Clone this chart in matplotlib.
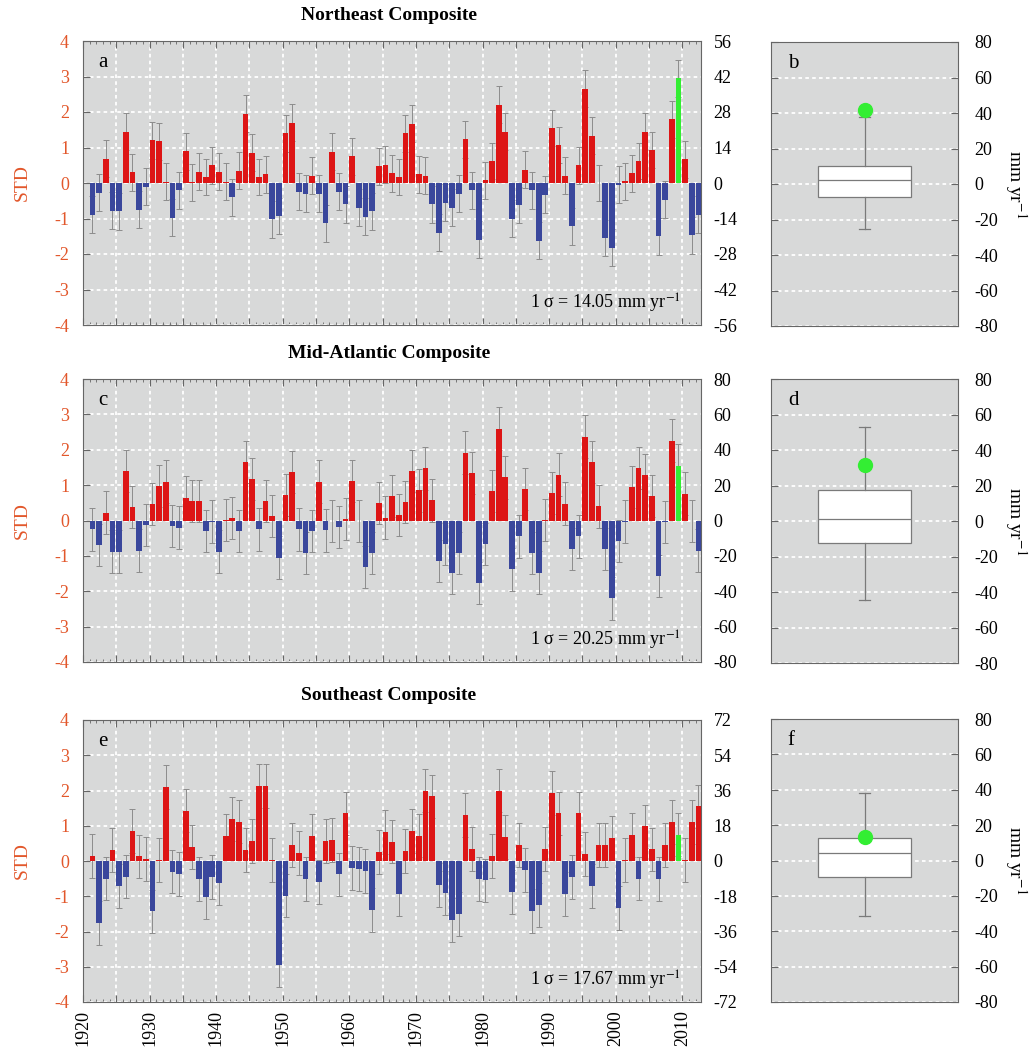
import matplotlib.pyplot as plt
import numpy as np
from matplotlib.ticker import MultipleLocator, FuncFormatter

plt.rcParams['font.family'] = ['Liberation Serif', 'DejaVu Serif']
plt.rcParams['axes.unicode_minus'] = False
plt.rcParams['mathtext.fontset'] = 'stix'

# --- dane ---
years = np.arange(1921, 2013)
highlight_year = 2009

ne_std = [-0.9, -0.28, 0.69, -0.78, -0.8, 1.45, 0.3, -0.75, -0.1, 1.2,
          1.17, 0.03, -0.98, -0.2, 0.9, 0.02, 0.32, 0.17, 0.5, 0.32,
          0.03, -0.4, 0.35, 1.95, 0.85, 0.17, 0.25, -1.02, -0.93, 1.4,
          1.7, -0.25, -0.3, 0.2, -0.3, -1.13, 0.88, -0.25, -0.6, 0.75,
          -0.7, -0.95, -0.8, 0.47, 0.52, 0.27, 0.17, 1.4, 1.67, 0.25,
          0.2, -0.6, -1.4, -0.55, -0.7, -0.3, 1.23, -0.2, -1.6, 0.08,
          0.62, 2.2, 1.45, -1.0, -0.62, 0.38, -0.2, -1.62, -0.33, 1.55,
          1.07, 0.2, -1.22, 0.5, 2.65, 1.33, 0.0, -1.55, -1.82, -0.05,
          0.05, 0.28, 0.62, 1.45, 0.93, -1.5, -0.47, 1.8, 2.95, 0.67,
          -1.47, -0.9]

ma_std = [-0.25, -0.7, 0.22, -0.88, -0.88, 1.4, 0.38, -0.85, -0.12, 0.47,
          0.98, 1.1, -0.15, -0.2, 0.65, 0.55, 0.55, -0.3, -0.03, -0.88,
          0.02, 0.07, -0.3, 1.65, 1.18, -0.25, 0.55, 0.12, -1.05, 0.72,
          1.37, -0.25, -0.92, -0.3, 1.1, -0.28, -0.02, -0.18, 0.04, 1.12,
          -0.02, -1.32, -0.92, 0.5, 0.08, 0.7, 0.15, 0.52, 1.4, 0.85,
          1.47, 0.57, -1.15, -0.66, -1.49, -0.92, 1.92, 1.34, -1.76, -0.66,
          0.83, 2.6, 1.22, -1.38, -0.45, 0.89, -0.92, -1.47, 0.02, 0.78,
          1.3, 0.48, -0.8, -0.45, 2.37, 1.65, 0.4, -0.8, -2.2, -0.58,
          -0.03, 0.95, 1.49, 1.28, 0.69, -1.57, -0.05, 2.26, 1.55, 0.76,
          -0.02, -0.85]

se_std = [0.15, -1.75, -0.5, 0.31, -0.7, -0.44, 0.85, 0.13, 0.05, -1.43,
          0.02, 2.1, -0.3, -0.37, 1.43, 0.4, -0.52, -1.02, -0.45, -0.62,
          0.72, 1.2, 1.12, 0.32, 0.57, 2.13, 2.13, 0.03, -2.95, -0.98,
          0.45, 0.22, -0.52, 0.7, -0.6, 0.57, 0.6, -0.38, 1.35, -0.2,
          -0.22, -0.28, -1.38, 0.25, 0.82, 0.55, -0.95, 0.28, 0.85, 0.72,
          2.0, 1.83, -0.68, -0.9, -1.67, -1.5, 1.3, 0.35, -0.52, -0.55,
          0.14, 2.0, 0.68, -0.88, 0.45, -0.25, -1.42, -1.25, 0.35, 1.93,
          1.35, -0.93, -0.45, 1.35, 0.2, -0.7, 0.45, 0.45, 0.66, -1.34,
          0.03, 0.73, -0.5, 0.98, 0.33, -0.52, 0.45, 1.1, 0.75, 0.03,
          1.1, 1.55]

titles = ['Northeast Composite', 'Mid-Atlantic Composite', 'Southeast Composite']
series = [ne_std, ma_std, se_std]
sigmas = [14.05, 20.25, 17.67]
std_errors = [0.52, 0.6, 0.62]
right_limits = [56, 80, 72]
right_steps = [14, 20, 18]
bar_letters = ['a', 'c', 'e']
box_letters = ['b', 'd', 'f']

# statystyki wykresow pudelkowych (mm/rok)
box_q1 = [-7.5, -12.2, -9.6]
box_med = [2.3, 1.3, 4.0]
box_q3 = [10.0, 17.4, 12.5]
box_lo = [-25.6, -44.5, -31.2]
box_hi = [37.5, 52.7, 38.0]

# --- styl ---
W, H = 1033, 1052
BG = '#d8d9d9'
RED = '#dd1515'
BLUE = '#3a479c'
GREEN = '#33ee33'
ORANGE = '#e2572b'
GRID = dict(color='white', linestyle=(0, (2.0, 1.8)), linewidth=1.3)


def rect(l, r, t, b):
    return [l / W, 1 - b / H, (r - l) / W, (b - t) / H]


bar_rects = [(83, 701, 41, 325), (83, 701, 379, 662), (83, 701, 720, 1002)]
box_rects = [(771, 958, 42, 326), (771, 958, 379, 663), (771, 958, 719, 1002)]

fig = plt.figure(figsize=(W / 100, H / 100), dpi=100)

for k in range(3):
    vals = np.array(series[k])
    x = years + 0.42

    # Krok 1: wykres slupkowy
    ax = fig.add_axes(rect(*bar_rects[k]))
    ax.set_facecolor(BG)
    ax.set_axisbelow(True)
    colors = [GREEN if y == highlight_year else (RED if v >= 0 else BLUE)
              for y, v in zip(years, vals)]
    ax.errorbar(x, vals, yerr=std_errors[k], fmt='none', ecolor='#8c8c8c',
                elinewidth=0.7, capsize=2, capthick=0.7, zorder=1.5)
    ax.bar(x, vals, width=0.86, color=colors, edgecolor='none', zorder=2)

    ax.set_xlim(1920, 2012.8)
    ax.set_ylim(-4, 4)
    ax.xaxis.set_major_locator(MultipleLocator(5))
    ax.xaxis.set_minor_locator(MultipleLocator(1))
    ax.yaxis.set_major_locator(MultipleLocator(1))
    ax.grid(True, which='major', **GRID)
    ax.tick_params(axis='both', which='both', direction='in', top=True,
                   color='#666666')
    ax.tick_params(axis='x', which='major', length=5)
    ax.tick_params(axis='x', which='minor', length=2.5)
    ax.tick_params(axis='y', length=5, labelsize=13, labelcolor=ORANGE, pad=10)
    ax.set_yticklabels([f'{int(t)}' for t in ax.get_yticks()])
    for s in ax.spines.values():
        s.set_color('#666666')
        s.set_linewidth(0.8)

    if k == 2:
        ax.xaxis.set_major_formatter(
            FuncFormatter(lambda v, p: f'{int(v)}' if int(v) % 10 == 0 else ''))
        ax.tick_params(axis='x', labelsize=13, labelrotation=90, pad=6)
    else:
        ax.tick_params(axis='x', labelbottom=False)

    ax.text(0.025, 0.925, bar_letters[k], transform=ax.transAxes,
            fontsize=15, va='center', ha='left')
    ax.text(0.968, 0.075, f'1 σ = {sigmas[k]:.2f} mm yr$^{{-1}}$',
            transform=ax.transAxes, fontsize=13, ha='right', va='center')

    ax2 = ax.twinx()
    lim = right_limits[k]
    ax2.set_ylim(-lim, lim)
    ax2.yaxis.set_major_locator(MultipleLocator(right_steps[k]))
    ax2.tick_params(axis='y', direction='in', length=0, labelsize=13, pad=9)
    for s in ax2.spines.values():
        s.set_visible(False)

    top = bar_rects[k][2]
    fig.text(389 / W, 1 - (top - 25) / H, titles[k], fontsize=14,
             fontweight='bold', ha='center', va='center')
    fig.text(22 / W, 1 - ((bar_rects[k][2] + bar_rects[k][3]) / 2) / H, 'STD',
             rotation=90, fontsize=14, color=ORANGE, ha='center', va='center')

    # Krok 2: wykres pudelkowy
    bx = fig.add_axes(rect(*box_rects[k]))
    bx.set_facecolor(BG)
    bx.set_axisbelow(True)
    stats = [{'med': box_med[k], 'q1': box_q1[k], 'q3': box_q3[k],
              'whislo': box_lo[k], 'whishi': box_hi[k], 'fliers': []}]
    bx.bxp(stats, positions=[0], widths=0.5, patch_artist=True,
           showfliers=False, capwidths=0.06,
           boxprops=dict(facecolor='white', edgecolor='#7a7a7a', linewidth=0.9),
           medianprops=dict(color='#7a7a7a', linewidth=0.9),
           whiskerprops=dict(color='#7a7a7a', linewidth=0.9),
           capprops=dict(color='#7a7a7a', linewidth=0.9))
    hv = vals[list(years).index(highlight_year)] * sigmas[k]
    bx.plot(0, hv, 'o', color=GREEN, markersize=10, zorder=5)

    bx.set_xlim(-0.5, 0.5)
    bx.set_ylim(-80, 80)
    bx.yaxis.set_major_locator(MultipleLocator(20))
    bx.set_xticks([])
    bx.yaxis.grid(True, **GRID)
    bx.yaxis.tick_right()
    bx.yaxis.set_label_position('right')
    bx.tick_params(axis='y', direction='in', length=5, left=True, right=True,
                   labelsize=13, pad=12, color='#666666')
    bx.set_yticklabels([f'{int(t)}' for t in bx.get_yticks()])
    bx.set_ylabel('mm yr$^{-1}$', rotation=270, fontsize=14, labelpad=22)
    for s in bx.spines.values():
        s.set_color('#666666')
        s.set_linewidth(0.8)
    bx.text(0.09, 0.925, box_letters[k], transform=bx.transAxes,
            fontsize=15, va='center', ha='left')

fig.savefig('out.png', dpi=100)
